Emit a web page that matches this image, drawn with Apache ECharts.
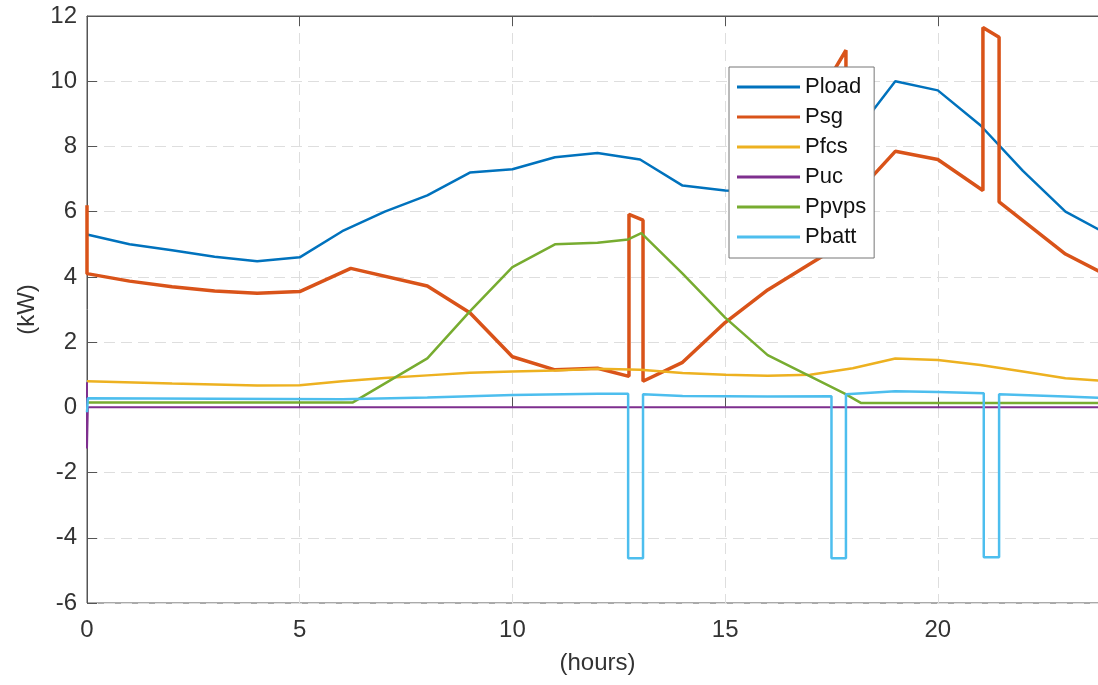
<!DOCTYPE html>
<html>
<head>
<meta charset="utf-8">
<script src="https://cdn.jsdelivr.net/npm/echarts@6/dist/echarts.min.js"></script>
<style>
  html, body { margin: 0; padding: 0; background: #fff; }
  #chart { width: 1098px; height: 685px; }
</style>
</head>
<body>
<div id="chart"></div>
<script>
// values (hours, kW)
const loadHours = [0, 1, 2, 3, 4, 5, 6, 7, 8, 9, 10, 11, 12, 13, 14, 15, 16, 17, 18, 19, 20, 21, 22, 23, 24]
const loadKw = [5.3, 5.0, 4.82, 4.62, 4.48, 4.6, 5.4, 6.0, 6.5, 7.2, 7.3, 7.67, 7.8, 7.6, 6.8, 6.65, 6.6, 7.2, 8.3, 10.0, 9.72, 8.65, 7.25, 6.0, 5.3]

const sgHours = [0, 0, 1, 2, 3, 4, 5, 6.2, 8, 9, 10, 11, 12, 12.74, 12.74, 13.07, 13.07, 14, 15, 16, 17, 17.5, 17.5, 17.84, 17.84, 19, 20, 21.06, 21.06, 21.44, 21.44, 23, 24]
const sgKw = [6.2, 4.1, 3.87, 3.7, 3.57, 3.5, 3.55, 4.26, 3.72, 2.9, 1.55, 1.15, 1.2, 0.95, 5.92, 5.74, 0.8, 1.38, 2.6, 3.6, 4.4, 4.8, 10.2, 10.95, 6.2, 7.85, 7.6, 6.65, 11.65, 11.35, 6.3, 4.7, 4.03]

const fcsHours = [0, 2, 4, 5, 6, 7, 8, 9, 10, 11, 12, 13, 14, 15, 16, 17, 18, 19, 20, 21, 22, 23, 24]
const fcsKw = [0.8, 0.73, 0.67, 0.68, 0.8, 0.9, 0.98, 1.06, 1.1, 1.13, 1.18, 1.15, 1.05, 1.0, 0.97, 1.0, 1.2, 1.5, 1.45, 1.3, 1.1, 0.89, 0.8]

const ucHours = [0, 0, 0.02, 24]
const ucKw = [0.77, -1.26, 0, 0]

const pvHours = [0, 6.25, 8, 9, 10, 11, 12, 12.72, 13.03, 14, 15, 16, 17, 17.8, 18.2, 24]
const pvKw = [0.15, 0.15, 1.5, 2.94, 4.3, 5.0, 5.05, 5.15, 5.34, 4.1, 2.75, 1.6, 0.95, 0.43, 0.13, 0.13]

const battHours = [0, 0.02, 6, 8, 10, 12, 12.72, 12.72, 13.07, 13.07, 14, 16, 17.5, 17.5, 17.84, 17.84, 19, 20, 21.08, 21.08, 21.44, 21.44, 23, 24]
const battKw = [-0.15, 0.28, 0.25, 0.3, 0.38, 0.42, 0.42, -4.63, -4.63, 0.4, 0.35, 0.33, 0.34, -4.63, -4.63, 0.4, 0.49, 0.47, 0.43, -4.6, -4.6, 0.4, 0.33, 0.28]

const xTicks = { min: 0, max: 24, interval: 5 }
const yTicks = { min: -6, max: 12, interval: 2 }

const pairs = (xs, ys) => xs.map((x, i) => [x, ys[i]])

const font = '"Liberation Sans", Arial, sans-serif'
const gridLine = { show: true, lineStyle: { color: '#dedede', type: [11, 6], width: 1 } }

const line = (name, xs, ys, color, width) => ({
  name,
  type: 'line',
  data: pairs(xs, ys),
  symbol: 'none',
  lineStyle: { color, width },
  itemStyle: { color },
  clip: true
})

const chart = echarts.init(document.getElementById('chart'))
chart.setOption({
  animation: false,
  backgroundColor: '#fff',
  grid: {
    // the 24 h edge sits just past the picture's right side
    left: 87, top: 16, bottom: 82, right: -10,
    outerBoundsMode: 'none',
    containLabel: false,
    show: true, borderColor: '#555', borderWidth: 1
  },
  xAxis: [
    {
      type: 'value', ...xTicks,
      name: '(hours)', nameLocation: 'middle', nameGap: 48,
      nameTextStyle: { fontFamily: font, fontSize: 24, color: '#333' },
      axisLine: { show: true, lineStyle: { color: '#555' } },
      axisTick: { show: true, inside: true, length: 10, lineStyle: { color: '#555' } },
      axisLabel: { fontFamily: font, fontSize: 24, color: '#333', margin: 15, showMaxLabel: false },
      splitLine: gridLine
    },
    {
      type: 'value', ...xTicks, position: 'top',
      axisLine: { show: true, lineStyle: { color: '#555' } },
      axisTick: { show: true, inside: true, length: 10, lineStyle: { color: '#555' } },
      axisLabel: { show: false },
      splitLine: { show: false }
    }
  ],
  yAxis: {
    type: 'value', ...yTicks,
    name: '(kW)', nameLocation: 'middle', nameGap: 44, nameRotate: 90,
    nameTextStyle: { fontFamily: font, fontSize: 24, color: '#333' },
    axisLine: { show: true, lineStyle: { color: '#555' } },
    axisTick: { show: true, inside: true, length: 10, lineStyle: { color: '#555' } },
    axisLabel: { fontFamily: font, fontSize: 24, color: '#333', margin: 10 },
    splitLine: gridLine
  },
  legend: {
    orient: 'vertical',
    left: 729, top: 67,
    icon: 'rect', itemWidth: 63, itemHeight: 3, itemGap: 8,
    padding: [9, 8, 10, 8],
    backgroundColor: '#fff', borderColor: '#777', borderWidth: 1, borderRadius: 0,
    textStyle: { fontFamily: font, fontSize: 22, color: '#111', lineHeight: 22 },
    data: ['Pload', 'Psg', 'Pfcs', 'Puc', 'Ppvps', 'Pbatt']
  },
  series: [
    line('Pload', loadHours, loadKw, '#0072BD', 2.5),
    line('Psg', sgHours, sgKw, '#D95319', 3.5),
    line('Pfcs', fcsHours, fcsKw, '#EDB120', 2.5),
    line('Puc', ucHours, ucKw, '#7E2F8E', 2),
    line('Ppvps', pvHours, pvKw, '#77AC30', 2.5),
    line('Pbatt', battHours, battKw, '#4DBEEE', 2.5)
  ]
})
</script>
</body>
</html>
